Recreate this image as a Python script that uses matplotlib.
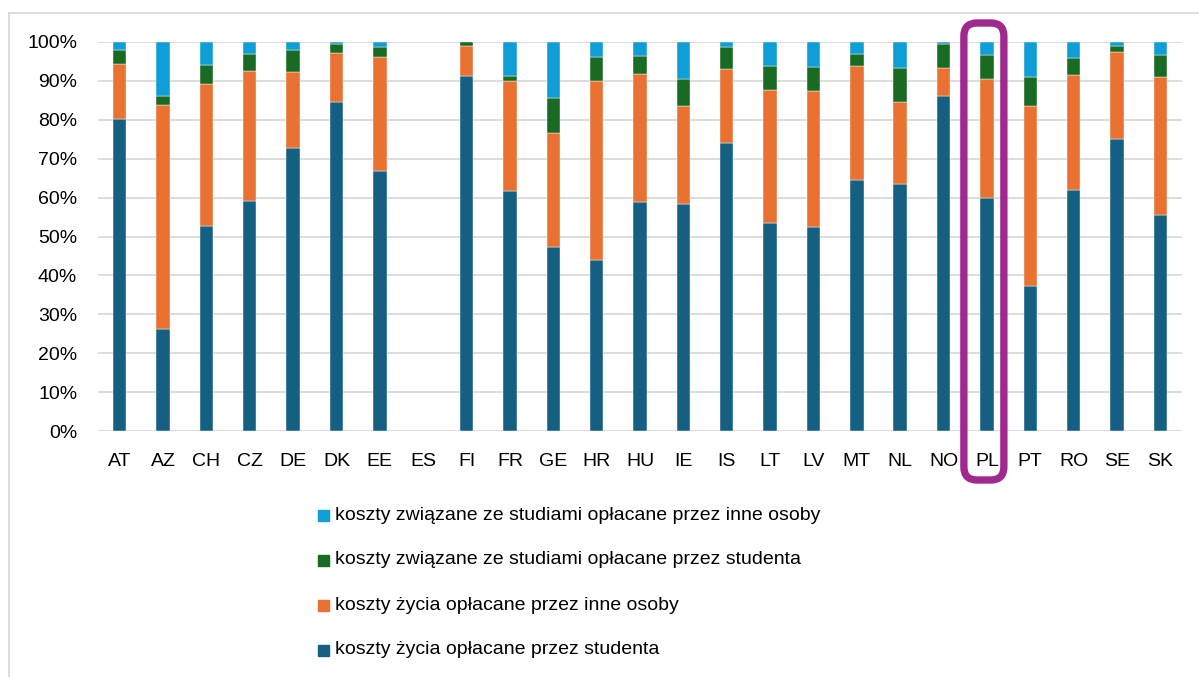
import matplotlib
matplotlib.use("Agg")
import matplotlib.pyplot as plt
from matplotlib.patches import Rectangle, FancyBboxPatch
from matplotlib.lines import Line2D
import numpy as np

countries = ["AT", "AZ", "CH", "CZ", "DE", "DK", "EE", "ES", "FI", "FR", "GE", "HR",
             "HU", "IE", "IS", "LT", "LV", "MT", "NL", "NO", "PL", "PT", "RO", "SE", "SK"]

living_student = [80.1, 26.1, 52.7, 59.1, 72.8, 84.7, 66.8, 0, 91.3, 61.7, 47.2, 44.0,
                  58.9, 58.3, 74.1, 53.4, 52.5, 64.4, 63.6, 86.0, 60.0, 37.4, 62.0, 75.0, 55.6]
living_others = [14.3, 57.6, 36.6, 33.5, 19.6, 12.4, 29.3, 0, 7.6, 28.2, 29.3, 45.9,
                 32.8, 25.3, 18.9, 34.3, 34.8, 29.4, 20.9, 7.4, 30.4, 46.1, 29.5, 22.4, 35.3]
study_student = [3.5, 2.5, 4.9, 4.2, 5.5, 2.3, 2.5, 0, 1.1, 1.4, 9.1, 6.2,
                 4.7, 6.9, 5.7, 6.1, 6.2, 3.1, 8.7, 6.1, 6.3, 7.5, 4.4, 1.7, 5.8]
study_others = [2.1, 13.8, 5.8, 3.2, 2.1, 0.6, 1.4, 0, 0.0, 8.7, 14.4, 3.9,
                3.6, 9.5, 1.3, 6.2, 6.5, 3.1, 6.8, 0.5, 3.3, 9.0, 4.1, 0.9, 3.3]

series_labels = [
    "koszty życia opłacane przez studenta",
    "koszty życia opłacane przez inne osoby",
    "koszty związane ze studiami opłacane przez studenta",
    "koszty związane ze studiami opłacane przez inne osoby",
]
colors = ["#156082", "#E97132", "#196B24", "#0F9ED5"]
y_ticks = [0, 10, 20, 30, 40, 50, 60, 70, 80, 90, 100]
y_tick_labels = [f"{v}%" for v in y_ticks]
highlight = "PL"

W, H = 1199, 677
plt.rcParams['font.family'] = ['Liberation Sans', 'DejaVu Sans']

fig = plt.figure(figsize=(W / 100, H / 100), dpi=100)
ax = fig.add_axes([98 / W, 1 - 431 / H, (1182 - 98) / W, (431 - 42) / H])

x = np.arange(len(countries))
data = [living_student, living_others, study_student, study_others]
bottom = np.zeros(len(countries))
for vals, col, lab in zip(data, colors, series_labels):
    v = np.array(vals, dtype=float)
    lws = [0.3 if val > 0 else 0 for val in v]
    ax.bar(x, v, bottom=bottom, width=0.31, color=col, label=lab,
           edgecolor="white", linewidth=lws, zorder=3)
    bottom += v

ax.set_xlim(-0.5, len(countries) - 0.5)
ax.set_ylim(0, 100)
ax.set_yticks(y_ticks)
ax.set_yticklabels(y_tick_labels)
ax.set_xticks(x)
ax.set_xticklabels(countries)
ax.tick_params(axis='both', length=0, labelsize=14, colors="#000000")
ax.tick_params(axis='x', pad=16)
ax.tick_params(axis='y', pad=15)
for s in ax.spines.values():
    s.set_visible(False)
ax.yaxis.grid(True, color="#D9D9D9", linewidth=1.3, zorder=0)
ax.set_axisbelow(True)

# highlight box around PL
i = countries.index(highlight)
px_per_unit = (1182 - 98) / len(countries)
cx = 98 + (i + 0.5) * px_per_unit - 3
box_w, box_top, box_bot = 40, 23, 480
fig.patches.append(FancyBboxPatch(((cx - box_w / 2) / W, 1 - box_bot / H),
                                  box_w / W, (box_bot - box_top) / H,
                                  boxstyle="round,pad=0,rounding_size=0.011",
                                  transform=fig.transFigure, fill=False,
                                  edgecolor="#A0298F", linewidth=5.3, zorder=10,
                                  mutation_aspect=W / H))

# outer frame lines (top and left)
fig.lines.append(Line2D([8.5 / W, 1.0], [1 - 12.5 / H, 1 - 12.5 / H],
                        transform=fig.transFigure, color="#D9D9D9", linewidth=1.3))
fig.lines.append(Line2D([8.5 / W, 8.5 / W], [0, 1 - 12.5 / H],
                        transform=fig.transFigure, color="#D9D9D9", linewidth=1.3))

# legend (reverse order, top = last series)
legend_rows = [515, 560, 605, 650]
for row_y, k in zip(legend_rows, [3, 2, 1, 0]):
    fig.patches.append(Rectangle((318 / W, 1 - (row_y + 5.5) / H), 11 / W, 11 / H,
                                 transform=fig.transFigure, color=colors[k]))
    fig.text(335 / W, 1 - row_y / H, series_labels[k], fontsize=14,
             va='center', ha='left', color="#000000")

fig.savefig("out.png", dpi=100)
